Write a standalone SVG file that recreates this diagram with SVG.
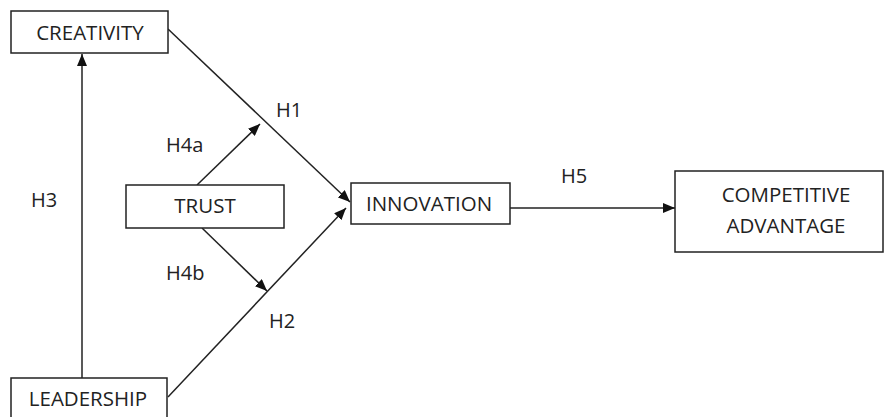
<svg xmlns="http://www.w3.org/2000/svg" width="885" height="417" viewBox="0 0 885 417">
<style>
.box{fill:#fff;stroke:#222;stroke-width:1.5}
.lbl{font-family:"Open Sans","Noto Sans",sans-serif;font-size:20.5px;fill:#222;text-anchor:middle}
.h{font-family:"Open Sans","Noto Sans",sans-serif;font-size:20px;fill:#222}
.edge{stroke:#222;stroke-width:1.5;fill:none}
</style>
<defs>
<marker id="arr" markerUnits="userSpaceOnUse" markerWidth="12" markerHeight="10" refX="12" refY="5" orient="auto">
<path d="M0,0 L12,5 L0,10 z" fill="#111"/>
</marker>
</defs>
<rect width="885" height="417" fill="#fff"/>
<g id="connectors">
<line class="edge" x1="82" y1="378" x2="82" y2="54" marker-end="url(#arr)"/>
<line class="edge" x1="168" y1="29" x2="350" y2="202" marker-end="url(#arr)"/>
<line class="edge" x1="168" y1="397" x2="346" y2="208" marker-end="url(#arr)"/>
<line class="edge" x1="197" y1="185" x2="260" y2="124" marker-end="url(#arr)"/>
<line class="edge" x1="202" y1="228" x2="267" y2="291" marker-end="url(#arr)"/>
<line class="edge" x1="510" y1="208" x2="675" y2="208" marker-end="url(#arr)"/>
</g>
<g id="creativity"><rect class="box" x="11" y="11" width="157" height="42"/><text class="lbl" x="90" y="40">CREATIVITY</text></g>
<g id="trust"><rect class="box" x="126" y="185" width="158" height="43"/><text class="lbl" x="205" y="213">TRUST</text></g>
<g id="innovation"><rect class="box" x="351" y="183" width="159" height="41"/><text class="lbl" x="429" y="211">INNOVATION</text></g>
<g id="competitive"><rect class="box" x="675" y="171" width="208" height="81"/><text class="lbl" x="786" y="202">COMPETITIVE</text><text class="lbl" x="786" y="233">ADVANTAGE</text></g>
<g id="leadership"><rect class="box" x="11" y="378" width="156" height="45"/><text class="lbl" x="88" y="406">LEADERSHIP</text></g>
<g id="labels">
<text class="h" x="276" y="117">H1</text>
<text class="h" x="166" y="152">H4a</text>
<text class="h" x="31" y="207">H3</text>
<text class="h" x="561" y="183">H5</text>
<text class="h" x="166" y="280">H4b</text>
<text class="h" x="269" y="328">H2</text>
</g>
</svg>
